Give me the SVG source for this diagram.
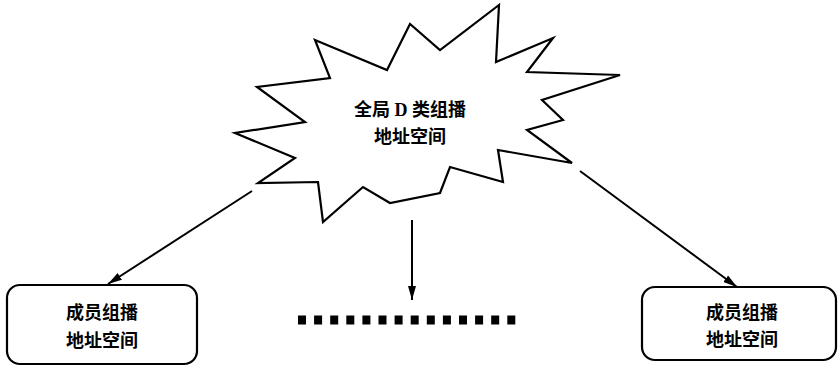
<svg xmlns="http://www.w3.org/2000/svg" width="840" height="373" viewBox="0 0 840 373">
<style>
.shape{fill:#fff;stroke:#000;stroke-width:2.2;stroke-linejoin:miter}
.lbl{font-family:"Liberation Serif","Noto Sans CJK SC",serif;font-size:18px;font-weight:bold;text-anchor:middle;fill:#000}
.conn{stroke:#000;stroke-width:2;fill:none}
</style>
<defs>
<marker id="arr" viewBox="0 0 14 8" refX="14" refY="4" markerWidth="14" markerHeight="8" markerUnits="userSpaceOnUse" orient="auto">
<path d="M0,0 L14,4 L0,8 Z" fill="#000"/>
</marker>
</defs>
<rect width="840" height="373" fill="#fff"/>
<g id="global">
<polygon class="shape" points="499,5 496,62 553,38 527,72 620,75 542,100 563,120 527,130 572,163 498,150 503,182 450,167 440,193 390,203 363,187 323,222 318,182 258,183 295,158 235,133 305,122 257,87 330,78 315,40 387,70 410,24 440,50"/>
<text class="lbl" x="410" y="116">全局 D 类组播</text>
<text class="lbl" x="410" y="143">地址空间</text>
</g>
<g id="member1">
<rect class="shape" x="7" y="285" width="190" height="79" rx="13"/>
<text class="lbl" x="102" y="319">成员组播</text>
<text class="lbl" x="102" y="347">地址空间</text>
</g>
<g id="member2">
<rect class="shape" x="642" y="287" width="194" height="73" rx="13"/>
<text class="lbl" x="742" y="319">成员组播</text>
<text class="lbl" x="742" y="346">地址空间</text>
</g>
<g id="ellipsis">
<line x1="298" y1="320" x2="516" y2="320" stroke="#000" stroke-width="9" stroke-dasharray="8 8.1"/>
</g>
<g id="connectors">
<line class="conn" x1="252" y1="191" x2="108" y2="284" marker-end="url(#arr)"/>
<line class="conn" x1="580" y1="171" x2="737" y2="287" marker-end="url(#arr)"/>
<line class="conn" x1="412" y1="220" x2="412" y2="300" marker-end="url(#arr)"/>
</g>
</svg>
